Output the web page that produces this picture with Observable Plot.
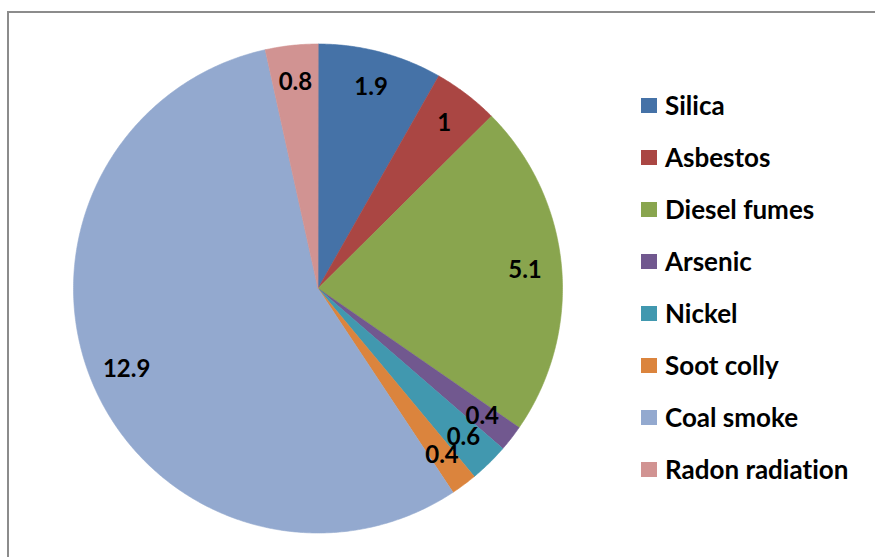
<!DOCTYPE html>
<html><head><meta charset="utf-8">
<script src="https://cdn.jsdelivr.net/npm/d3@7"></script>
<script src="https://cdn.jsdelivr.net/npm/@observablehq/plot@0.6"></script>
<style>
html,body{margin:0;padding:0;background:#fff;}
#wrap{position:relative;width:875px;height:557px;overflow:hidden;}
#frame{position:absolute;left:7px;top:11px;width:900px;height:600px;border-left:2px solid #8c8c8c;border-top:2px solid #8c8c8c;box-sizing:border-box;}
#legend{position:absolute;left:641px;top:79px;font-family:Lato,"Open Sans",sans-serif;font-weight:bold;font-size:26px;color:#000;font-variant-ligatures:none;}
.item{display:flex;align-items:center;height:52px;}
.sw{width:16px;height:15px;margin-right:8px;flex:none;}
svg text{font-variant-ligatures:none;}
</style></head>
<body>
<div id="wrap"><div id="frame"></div><div id="chart"></div><div id="legend"></div></div>
<script>
const categories = ["Silica","Asbestos","Diesel fumes","Arsenic","Nickel","Soot colly","Coal smoke","Radon radiation"];
const values = [1.9, 1, 5.1, 0.4, 0.6, 0.4, 12.9, 0.8];
const labels = ["1.9","1","5.1","0.4","0.6","0.4","12.9","0.8"];
const colors = ["#4572A7","#AA4643","#89A54E","#71588F","#4198AF","#DB843D","#93A9CF","#D19392"];

const W = 875, H = 557, cx = 317.5, cy = 288, R = 244.5;
const pie = d3.pie().sort(null).value(d => d.value)(categories.map((name, i) => ({name, value: values[i], label: labels[i]})));

const pts = [];
for (const a of pie) {
  pts.push({name: a.data.name, x: 0, y: 0});
  const n = Math.max(2, Math.ceil((a.endAngle - a.startAngle) / (Math.PI / 360)));
  for (let k = 0; k <= n; k++) {
    const t = a.startAngle + (a.endAngle - a.startAngle) * k / n;
    pts.push({name: a.data.name, x: Math.sin(t), y: Math.cos(t)});
  }
}
const lab = pie.map(a => {
  const m = (a.startAngle + a.endAngle) / 2;
  return {text: a.data.label, x: 0.85 * Math.sin(m), y: 0.85 * Math.cos(m)};
});

const chart = Plot.plot({
  width: W, height: H, margin: 0,
  x: {domain: [-cx / R, (W - cx) / R], axis: null},
  y: {domain: [-(H - cy) / R, cy / R], axis: null},
  color: {domain: categories, range: colors},
  marks: [
    Plot.line(pts, {x: "x", y: "y", z: "name", fill: "name", stroke: "name", strokeWidth: 0.6, curve: "linear-closed"}),
    Plot.text(lab, {x: "x", y: "y", text: "text", fontSize: 24, fontWeight: "bold", fill: "#000", fontFamily: "Lato, 'Open Sans', sans-serif"})
  ],
  style: {background: "transparent"}
});
chart.style.position = "absolute"; chart.style.left = "0"; chart.style.top = "0";
document.getElementById("chart").appendChild(chart);

const leg = document.getElementById("legend");
categories.forEach((c, i) => {
  const it = document.createElement("div"); it.className = "item";
  const sw = document.createElement("span"); sw.className = "sw"; sw.style.background = colors[i];
  const tx = document.createElement("span"); tx.textContent = c;
  it.appendChild(sw); it.appendChild(tx); leg.appendChild(it);
});
</script>
</body></html>
